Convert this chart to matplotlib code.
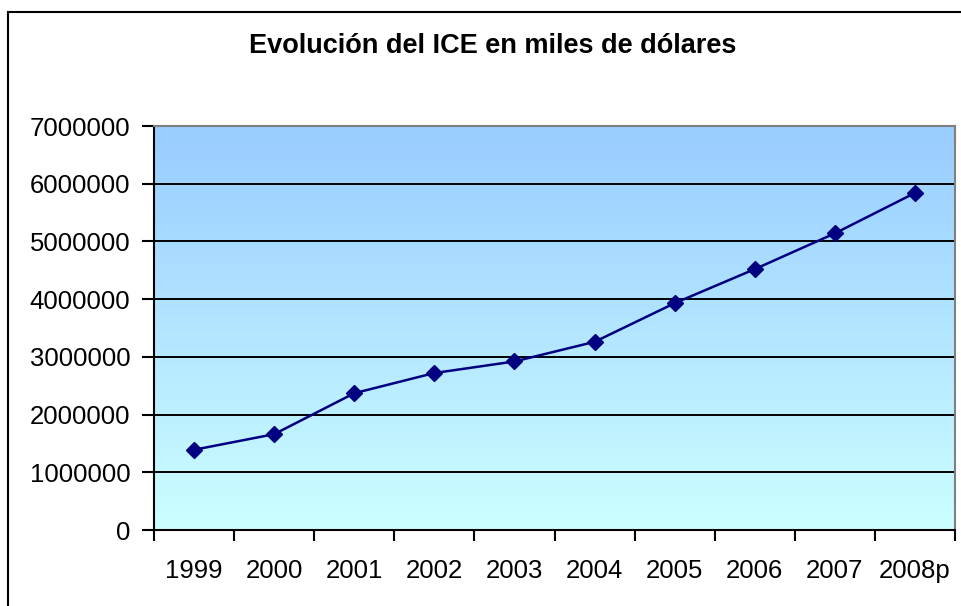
import matplotlib.pyplot as plt
import numpy as np
from matplotlib.patches import Rectangle
from matplotlib.colors import LinearSegmentedColormap

plt.rcParams['font.family'] = ['Liberation Sans', 'DejaVu Sans']

# datos
years = ['1999', '2000', '2001', '2002', '2003', '2004', '2005', '2006', '2007', '2008p']
ice = [1390000, 1660000, 2370000, 2720000, 2920000, 3260000, 3930000, 4520000, 5140000, 5840000]
yticks = [0, 1000000, 2000000, 3000000, 4000000, 5000000, 6000000, 7000000]

fig = plt.figure(figsize=(9.61, 6.06), dpi=100)
fig.patch.set_facecolor('white')

# marco del grafico (cortado a la derecha y abajo)
fig.patches.append(Rectangle((8 / 961, -0.1), 1.2, 1 - 12 / 606 + 0.1,
                             transform=fig.transFigure, fill=False,
                             edgecolor='black', linewidth=1.5))

ax = fig.add_axes([154 / 961, 1 - 530 / 606, (955 - 154) / 961, (530 - 126) / 606])

x = np.arange(len(years))
ax.set_xlim(-0.5, len(years) - 0.5)
ax.set_ylim(0, 7000000)

# fondo degradado azul -> celeste
cmap = LinearSegmentedColormap.from_list('fondo', ['#ccffff', '#99ccff'])
grad = np.linspace(0, 1, 256).reshape(-1, 1)
ax.imshow(grad, aspect='auto', cmap=cmap, origin='lower',
          extent=[-0.5, len(years) - 0.5, 0, 7000000], zorder=0)

for v in yticks[1:-1]:
    ax.axhline(v, color='black', linewidth=1.4, zorder=1)

ax.plot(x, ice, color='#000080', linewidth=1.8, marker='D', markersize=8.5,
        markerfacecolor='#000080', markeredgecolor='#000080', zorder=3)

ax.set_yticks(yticks)
ax.set_yticklabels([str(v) for v in yticks])
ax.set_xticks(x)
ax.set_xticklabels(years)
ax.set_xticks(np.arange(len(years) + 1) - 0.5, minor=True)
ax.tick_params(axis='x', which='major', length=0, pad=21, labelsize=18.5)
ax.tick_params(axis='x', which='minor', length=8, width=1.5, direction='out')
ax.tick_params(axis='y', length=9, width=1.5, direction='out', pad=8, labelsize=18.5)

for s in ['left', 'bottom']:
    ax.spines[s].set_color('black')
    ax.spines[s].set_linewidth(1.5)
for s in ['top', 'right']:
    ax.spines[s].set_color('#808080')
    ax.spines[s].set_linewidth(1.5)

fig.text(493 / 961, 1 - 46 / 606, 'Evolución del ICE en miles de dólares',
         ha='center', va='center', fontsize=19.5, fontweight='bold')

fig.savefig('out.png', dpi=100)
